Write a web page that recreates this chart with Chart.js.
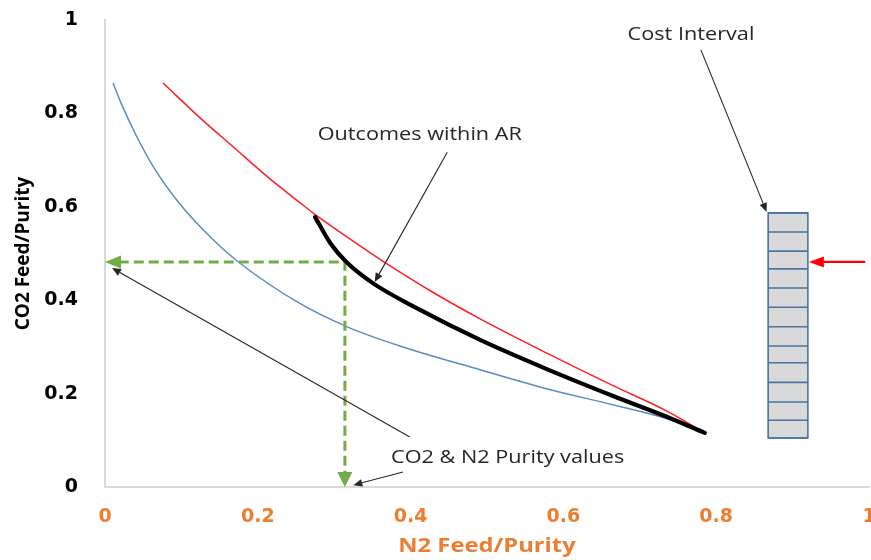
<!DOCTYPE html>
<html>
<head>
<meta charset="utf-8">
<script src="https://cdn.jsdelivr.net/npm/chart.js@4/dist/chart.umd.min.js"></script>
<style>
  html, body { margin: 0; padding: 0; background: #ffffff; }
  #wrap { width: 871px; height: 560px; }
</style>
</head>
<body>
<div id="wrap"><canvas id="chart" width="871" height="560"></canvas></div>
<script>
// Axis ticks
const xTicks = [0, 0.2, 0.4, 0.6, 0.8, 1];
const yTicks = [0, 0.2, 0.4, 0.6, 0.8, 1];

// Lower bound curve (blue)
const blueX = [0.0105, 0.021, 0.042, 0.065, 0.098, 0.140, 0.173, 0.255, 0.317, 0.386, 0.491, 0.579, 0.665, 0.736, 0.788];
const blueY = [0.865, 0.822, 0.749, 0.681, 0.606, 0.532, 0.484, 0.393, 0.343, 0.302, 0.251, 0.210, 0.176, 0.146, 0.116];

// Upper bound curve (red)
const redX = [0.076, 0.124, 0.168, 0.212, 0.255, 0.277, 0.334, 0.364, 0.429, 0.491, 0.579, 0.665, 0.736, 0.783];
const redY = [0.865, 0.791, 0.728, 0.665, 0.609, 0.581, 0.516, 0.483, 0.417, 0.360, 0.286, 0.217, 0.162, 0.118];

// Outcomes within AR (thick black)
const arX = [0.275, 0.295, 0.317, 0.351, 0.408, 0.491, 0.579, 0.665, 0.736, 0.785];
const arY = [0.578, 0.522, 0.480, 0.436, 0.383, 0.315, 0.252, 0.195, 0.150, 0.116];

// Purity read-off guide (green dashed): corner point and the two arrow tips
const guideCorner = [0.314, 0.482];
const guideTipY = [0, 0.482];   // arrow onto the CO2 axis
const guideTipX = [0.314, 0];   // arrow onto the N2 axis

// Cost interval column: x span and cell edges (top to bottom)
const costSpanX = [0.868, 0.920];
const costEdges = [0.587, 0.546, 0.505, 0.467, 0.426, 0.385, 0.343, 0.302, 0.266, 0.224, 0.182, 0.143, 0.105];
// Red marker pointing at the selected cost cell
const costMarkerFrom = [0.995, 0.482];
const costMarkerTo = [0.920, 0.482];

// Callout labels: text, anchor (x, y)
const calloutText = ['Outcomes within AR', 'Cost Interval', 'CO2 & N2 Purity values'];
const calloutX = [0.412, 0.767, 0.527];
const calloutY = [0.754, 0.968, 0.062];
// Callout arrows: [fromX, fromY, toX, toY]
const calloutArrows = [
  [0.448, 0.717, 0.353, 0.439],
  [0.780, 0.936, 0.866, 0.589],
  [0.399, 0.107, 0.0092, 0.469],
  [0.390, 0.032, 0.325, 0.004]
];

const xTitle = 'N2 Feed/Purity';
const yTitle = 'CO2 Feed/Purity';

const pts = (xs, ys) => xs.map((v, i) => ({ x: v, y: ys[i] }));

function arrow(ctx, x1, y1, x2, y2, len, half, color, width) {
  const ang = Math.atan2(y2 - y1, x2 - x1);
  const bx = x2 - Math.cos(ang) * len, by = y2 - Math.sin(ang) * len;
  ctx.strokeStyle = color;
  ctx.fillStyle = color;
  ctx.lineWidth = width;
  ctx.setLineDash([]);
  ctx.beginPath();
  ctx.moveTo(x1, y1);
  ctx.lineTo(bx, by);
  ctx.stroke();
  ctx.beginPath();
  ctx.moveTo(x2, y2);
  ctx.lineTo(bx + Math.sin(ang) * half, by - Math.cos(ang) * half);
  ctx.lineTo(bx - Math.sin(ang) * half, by + Math.cos(ang) * half);
  ctx.closePath();
  ctx.fill();
}

// wide-set text, centred on (x, y)
function wideText(ctx, text, x, y, sx) {
  ctx.save();
  ctx.translate(x, y);
  ctx.scale(sx, 1);
  ctx.fillText(text, 0, 0);
  ctx.restore();
}

const annotations = {
  id: 'annotations',
  afterDatasetsDraw(chart) {
    const { ctx, scales: { x, y }, chartArea } = chart;
    const px = v => x.getPixelForValue(v);
    const py = v => y.getPixelForValue(v);
    ctx.save();

    // green arrowheads at the ends of the dashed guide
    ctx.fillStyle = '#70ad47';
    let tx = px(guideTipY[0]), ty = py(guideTipY[1]);
    ctx.beginPath();
    ctx.moveTo(tx, ty);
    ctx.lineTo(tx + 16, ty - 6.5);
    ctx.lineTo(tx + 16, ty + 6.5);
    ctx.closePath();
    ctx.fill();
    tx = px(guideTipX[0]); ty = py(guideTipX[1]);
    ctx.beginPath();
    ctx.moveTo(tx, ty);
    ctx.lineTo(tx - 7.5, ty - 15);
    ctx.lineTo(tx + 7.5, ty - 15);
    ctx.closePath();
    ctx.fill();

    // cost interval column
    const cx0 = px(costSpanX[0]), cx1 = px(costSpanX[1]);
    const cTop = py(costEdges[0]), cBot = py(costEdges[costEdges.length - 1]);
    ctx.fillStyle = '#d9d9d9';
    ctx.fillRect(cx0, cTop, cx1 - cx0, cBot - cTop);
    ctx.strokeStyle = '#4a74a3';
    ctx.lineWidth = 1.6;
    costEdges.forEach(e => {
      ctx.beginPath();
      ctx.moveTo(cx0, py(e));
      ctx.lineTo(cx1, py(e));
      ctx.stroke();
    });
    ctx.strokeRect(cx0, cTop, cx1 - cx0, cBot - cTop);

    // red marker
    arrow(ctx, px(costMarkerFrom[0]), py(costMarkerFrom[1]), px(costMarkerTo[0]) + 1, py(costMarkerTo[1]),
      15, 5.5, '#ff0000', 2.2);

    // callout arrows
    calloutArrows.forEach(a => {
      arrow(ctx, px(a[0]), py(a[1]), px(a[2]), py(a[3]), 9, 3.8, '#262626', 1.1);
    });

    // callout labels
    ctx.fillStyle = '#262626';
    ctx.font = '19px "Open Sans", "Liberation Sans", sans-serif';
    ctx.textAlign = 'center';
    ctx.textBaseline = 'middle';
    calloutText.forEach((t, i) => wideText(ctx, t, px(calloutX[i]), py(calloutY[i]), 1.14));

    // horizontal axis title
    ctx.fillStyle = '#ed7d31';
    ctx.font = 'bold 19px "Open Sans", sans-serif';
    wideText(ctx, xTitle, (chartArea.left + chartArea.right) / 2, 547, 1.25);

    ctx.restore();
  }
};

const tickFont = { family: 'DejaVu Sans', size: 19, weight: 'bold' };

new Chart(document.getElementById('chart'), {
  type: 'scatter',
  data: {
    datasets: [
      {
        label: 'Outcomes within AR',
        data: pts(arX, arY),
        showLine: true,
        borderColor: '#000000',
        borderWidth: 4.2,
        pointRadius: 0,
        cubicInterpolationMode: 'monotone',
        borderCapStyle: 'round'
      },
      {
        label: 'Purity guide',
        data: [
          { x: guideTipY[0] + 0.018, y: guideCorner[1] },
          { x: guideCorner[0], y: guideCorner[1] },
          { x: guideCorner[0], y: guideTipX[1] + 0.025 }
        ],
        showLine: true,
        borderColor: '#70ad47',
        borderWidth: 3,
        borderDash: [10, 5],
        pointRadius: 0,
        tension: 0
      },
      {
        label: 'Upper bound',
        data: pts(redX, redY),
        showLine: true,
        borderColor: '#ff1f1f',
        borderWidth: 1.5,
        pointRadius: 0,
        cubicInterpolationMode: 'monotone'
      },
      {
        label: 'Lower bound',
        data: pts(blueX, blueY),
        showLine: true,
        borderColor: '#5b8bc4',
        borderWidth: 1.5,
        pointRadius: 0,
        cubicInterpolationMode: 'monotone'
      }
    ]
  },
  options: {
    responsive: false,
    animation: false,
    layout: { padding: { top: 20, right: 2, left: 0, bottom: 0 } },
    plugins: { legend: { display: false }, tooltip: { enabled: false } },
    scales: {
      x: {
        type: 'linear',
        min: 0,
        max: 1,
        afterBuildTicks: a => { a.ticks = xTicks.map(v => ({ value: v })); },
        afterFit: s => { s.height = 73; s.paddingLeft = 0; s.paddingRight = 0; },
        grid: { display: false, drawTicks: false },
        border: { display: true, color: '#d9d9d9', width: 2 },
        ticks: {
          color: '#ed7d31',
          font: tickFont,
          padding: 19,
          maxRotation: 0,
          autoSkip: false,
          callback: v => String(v)
        },
        title: { display: false }
      },
      y: {
        type: 'linear',
        min: 0,
        max: 1,
        afterBuildTicks: a => { a.ticks = yTicks.map(v => ({ value: v })); },
        afterFit: s => { s.width = 105; s.paddingTop = 0; s.paddingBottom = 0; },
        grid: { display: false, drawTicks: false },
        border: { display: true, color: '#d9d9d9', width: 2 },
        ticks: {
          color: '#000000',
          font: tickFont,
          padding: 27,
          autoSkip: false,
          callback: v => String(v)
        },
        title: {
          display: true,
          text: yTitle,
          color: '#000000',
          font: { family: 'Open Sans', size: 19, weight: 'bold' },
          padding: { top: 12, bottom: 0 }
        }
      }
    }
  },
  plugins: [annotations]
});
</script>
</body>
</html>
